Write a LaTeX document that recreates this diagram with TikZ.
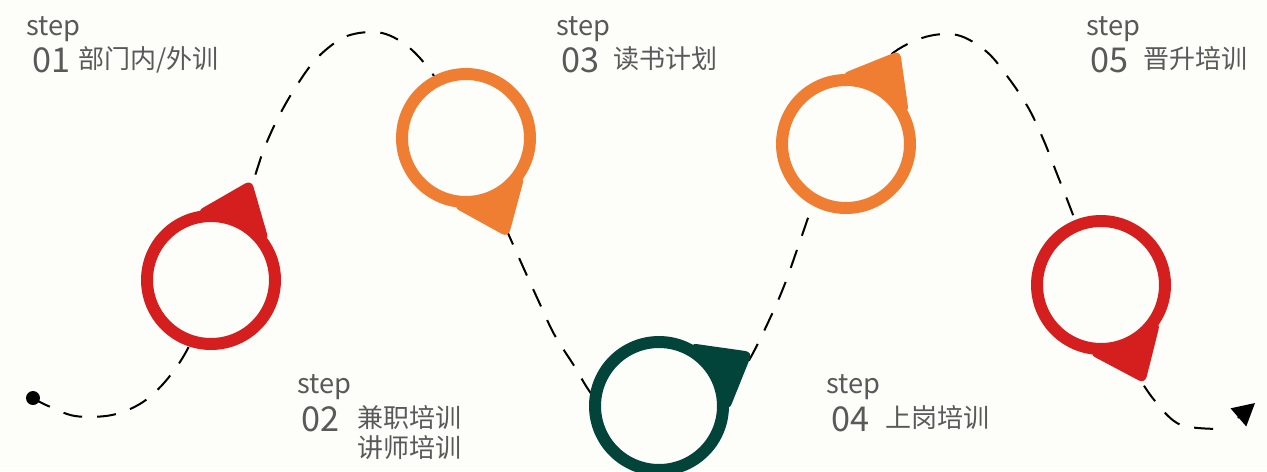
\documentclass[tikz,border=0pt]{standalone}
\usepackage{fontspec}
\setmainfont{Noto Sans CJK SC}
\usetikzlibrary{arrows.meta,calc,positioning}

\definecolor{pinred}{HTML}{D51F1F}
\definecolor{pinorange}{HTML}{EF7D32}
\definecolor{pingreen}{HTML}{03443A}
\definecolor{paper}{HTML}{FDFDFA}
\definecolor{labelgray}{HTML}{595959}

\tikzset{
  pinring/.style={circle, draw=#1, fill=paper, line width=0.24cm,
                  minimum size=2.56cm, inner sep=0pt},
  trail/.style={line width=0.04cm, dash pattern=on 0.38cm off 0.30cm},
  endtip/.style={solid, line width=0.04cm,
                 -{Triangle[length=0.44cm, width=0.47cm]}, shorten <=0.34cm},
  startdot/.style={circle, fill=black, minimum size=0.28cm, inner sep=0pt},
  steptag/.style={inner sep=0pt, anchor=base west, text=labelgray,
                  font=\fontsize{15.5}{17}\selectfont},
  stepnum/.style={inner sep=0pt, anchor=base west, text=labelgray,
                  font=\fontsize{19.5}{21}\selectfont},
  steptext/.style={inner sep=0pt, anchor=base west, text=labelgray,
                   font=\fontsize{14.8}{17}\selectfont},
}

% map pin: #1 name, #2 centre, #3 direction of the pointer, #4 colour
\newcommand\mappin[4]{%
  \fill[#4, rounded corners=4pt] ($(#2)+(#3:108)$) -- ($(#2)+(#3+34:70)$)
       -- ($(#2)+(#3-34:70)$) -- cycle;
  \node[pinring=#4] (#1) at (#2) {};
}

\begin{document}
\begin{tikzpicture}[x=0.02cm, y=0.02cm]
  \useasboundingbox (0,0) rectangle (1267,-471);
  \clip (0,0) rectangle (1267,-471);
  \fill[paper] (0,0) rectangle (1267,-471);
  %
  % the dashed trail (the pins hide most of its turns)
  \node[startdot] (start) at (33,-398) {};
  \coordinate (finish) at (1225,-429);
  \coordinate (tip) at (1255,-403);
  \draw[trail] plot[smooth, tension=0.55] coordinates {
    (start.center) (46,-405) (75,-416) (112,-415) (143,-402) (169,-377)
    (192,-340) (222,-262) (250,-190) (264,-149) (279,-116) (297,-85)
    (318,-57) (347,-36) (382,-33) (412,-50) (440,-85) (468,-140)
    (500,-215) (524,-269) (539,-302) (554,-334) (573,-364) (598,-402)
    (650,-448) (710,-420) (748,-362) (772,-314) (786,-281) (798,-247)
    (822,-180) (855,-110) (885,-60) (922,-38) (957,-35) (987,-52)
    (1010,-80) (1029,-109) (1044,-141) (1057,-174) (1070,-207)
    (1090,-260) (1112,-320) (1135,-370) (1155,-401) (1181,-425)
    (finish)};
  \draw[endtip] (finish) -- (tip);
  %
  % the five pins
  \mappin{pinA}{211,-280}{68}{pinred}
  \mappin{pinB}{466,-138}{-67}{pinorange}
  \mappin{pinC}{659,-406}{30}{pingreen}
  \mappin{pinD}{846,-144}{60}{pinorange}
  \mappin{pinE}{1101,-285}{-66}{pinred}
  %
  % labels, top row
  \node[steptag] (tagA) at (26,-35) {step};
  \node[stepnum] (numA) at (32,-72) {01};
  \node[steptext] (txtA) at (78,-68) {部门内/外训};
  \node[steptag] (tagC) at (556,-35) {step};
  \node[stepnum] (numC) at (561,-72) {03};
  \node[steptext] (txtC) at (613,-68) {读书计划};
  \node[steptag] (tagE) at (1086,-35) {step};
  \node[stepnum] (numE) at (1090,-72) {05};
  \node[steptext] (txtE) at (1143,-68) {晋升培训};
  %
  % labels, bottom row
  \node[steptag] (tagB) at (297,-393) {step};
  \node[stepnum] (numB) at (301,-431) {02};
  \node[steptext] (txtB) at (357,-427) {兼职培训};
  \node[steptext] (txtBB) at ($(txtB.base west)+(0,-30)$) {讲师培训};
  \node[steptag] (tagD) at (826,-393) {step};
  \node[stepnum] (numD) at (831,-431) {04};
  \node[steptext] (txtD) at (885,-427) {上岗培训};
\end{tikzpicture}
\end{document}
